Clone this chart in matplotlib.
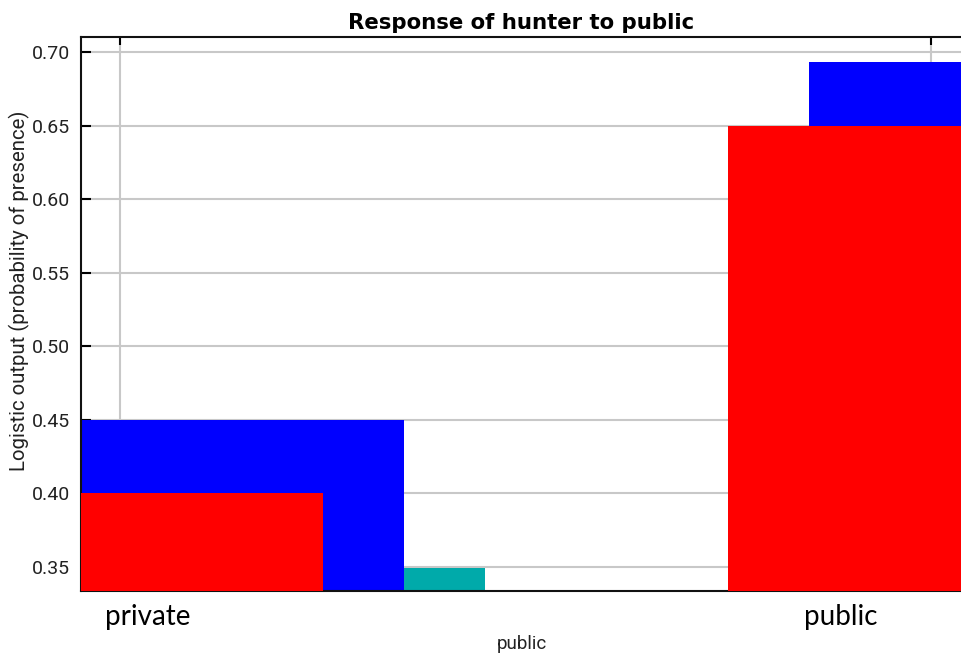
import matplotlib
matplotlib.use("Agg")
import matplotlib.pyplot as plt

# categories of the "public" variable (0 = private land, 1 = public land)
categories = [0, 1]
category_names = ["private", "public"]

# response with all variables (red) and with only this variable (blue)
red_values = [0.40, 0.65]
blue_values = [0.45, 0.693]

# extra bar between the categories
teal_x = [0.40]
teal_values = [0.349]

yticks = [0.35, 0.40, 0.45, 0.50, 0.55, 0.60, 0.65, 0.70]

fig = plt.figure(figsize=(9.62, 6.61), dpi=100)
ax = fig.add_axes([81 / 962, 1 - 591 / 661, (962 - 81) / 962, (591 - 37) / 661])

# blue drawn first so the red bars sit in front of it
ax.bar([c + 0.1 for c in categories], blue_values, width=0.5, color="#0000ff", zorder=2)
ax.bar(categories, red_values, width=0.5, color="#ff0000", zorder=3)
ax.bar(teal_x, teal_values, width=0.1, color="#00aaaa", zorder=2)

ax.set_xlim(-0.0481, 1.0382)
ax.set_ylim(0.3337, 0.7102)

ax.set_yticks(yticks)
ax.set_yticklabels(["%.2f" % v for v in yticks], fontsize=14, family="Roboto", color="#222222")
ax.set_xticks(categories)
ax.set_xticklabels([])

ax.grid(True, color="#c8c8c8", linewidth=1.5, zorder=0)
ax.set_axisbelow(True)

ax.tick_params(axis="y", direction="in", length=7, width=1.5, left=True, right=False, pad=8)
ax.tick_params(axis="x", direction="in", length=6, width=1.5, bottom=False, top=True)

for side in ["left", "top", "bottom"]:
    ax.spines[side].set_linewidth(1.5)
    ax.spines[side].set_color("#111111")
ax.spines["right"].set_visible(False)

ax.set_title("Response of hunter to public", fontsize=15.3, fontweight="bold", pad=6)
ax.set_ylabel("Logistic output (probability of presence)", fontsize=14.7, family="Roboto",
              color="#222222")
ax.yaxis.set_label_coords(-0.058, 0.5415)
ax.set_xlabel("public", fontsize=13.5, family="Roboto", color="#222222", labelpad=28)

# category names under the bars
fig.text(148 / 962, 1 - 617 / 661, category_names[0], fontsize=20, family="Lato",
         ha="center", va="center")
fig.text(841 / 962, 1 - 617 / 661, category_names[1], fontsize=20, family="Lato",
         ha="center", va="center")

fig.savefig("out.png", dpi=100)
